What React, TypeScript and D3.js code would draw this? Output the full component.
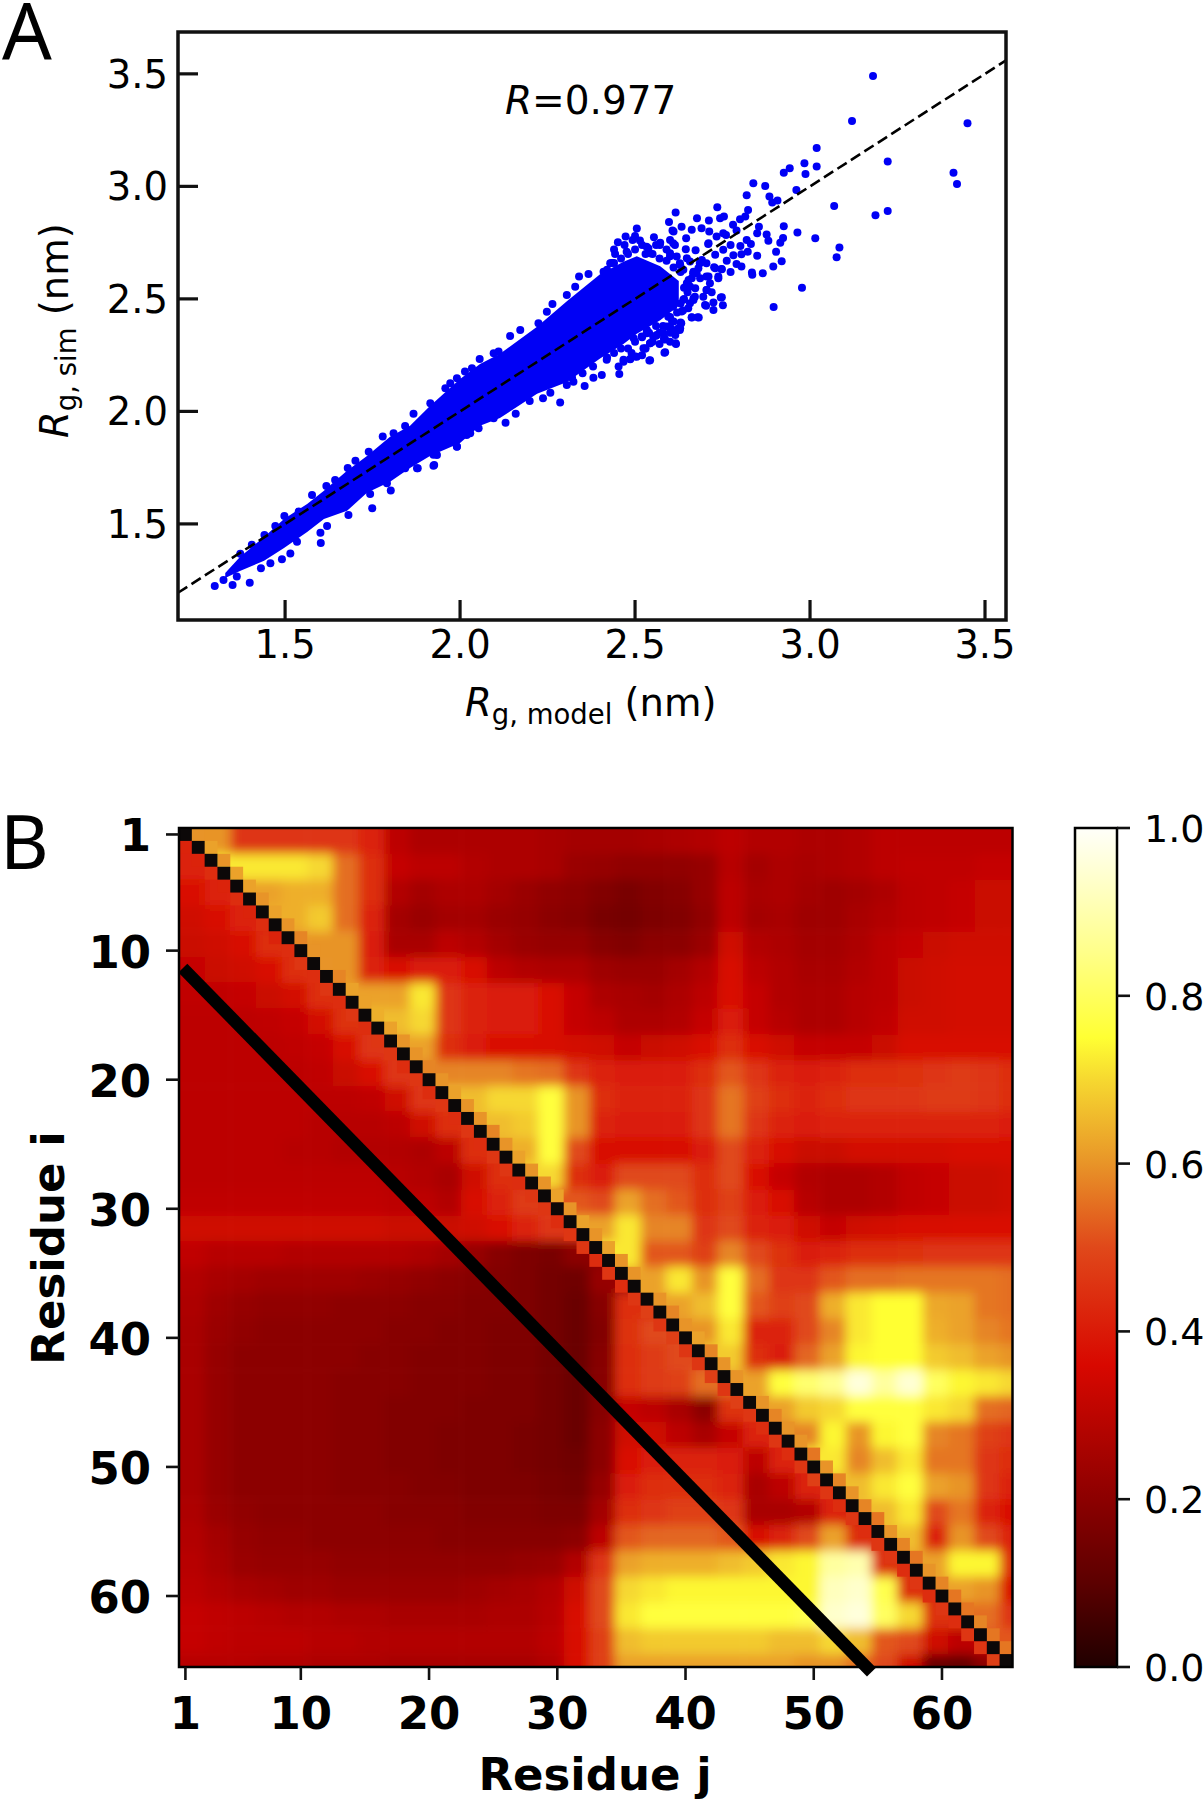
import { useMemo } from "react";
import * as d3 from "d3";

const WIDTH = 1203;
const HEIGHT = 1800;
const SANS = "DejaVu Sans";
const POINT_BLUE = "#0000f5";

// Panel A frame and axes
const A = { left: 178, right: 1006, top: 32, bottom: 620 };
const A_X_DOMAIN = [1.194, 3.56];
const A_Y_DOMAIN = [1.073, 3.686];
const A_TICKS = [1.5, 2.0, 2.5, 3.0, 3.5];
const FIT_LINE = [1.194, 3.56];

// The middle of the cloud is solid blue, single points can't be told apart there.
// So it is kept as an envelope read off the picture, and only the points that can
// actually be seen (edges and outliers) are listed one by one.
const CORE_X = [1.329, 1.371, 1.44, 1.497, 1.563, 1.611, 1.677, 1.734, 1.8, 1.857, 1.914, 2.0, 2.057, 2.114, 2.22, 2.306, 2.4, 2.467, 2.505, 2.572, 2.625];
const CORE_UPPER = [1.282, 1.353, 1.442, 1.522, 1.589, 1.647, 1.736, 1.802, 1.887, 1.936, 2.024, 2.144, 2.211, 2.256, 2.376, 2.491, 2.61, 2.665, 2.69, 2.645, 2.58];
const CORE_LOWER = [1.26, 1.291, 1.336, 1.393, 1.464, 1.522, 1.558, 1.638, 1.687, 1.749, 1.802, 1.86, 1.936, 1.971, 2.078, 2.131, 2.235, 2.3, 2.345, 2.405, 2.47];

const POINTS_LOW: number[][] = [
  [1.299, 1.224], [1.35, 1.229], [1.399, 1.238], [1.324, 1.251], [1.362, 1.266], [1.431, 1.303], [1.491, 1.343], [1.515, 1.368],
  [1.458, 1.325], [1.602, 1.415], [1.601, 1.461], [1.62, 1.491], [1.534, 1.421], [1.681, 1.54], [1.749, 1.57], [1.743, 1.633],
  [1.802, 1.648], [1.791, 1.681], [1.877, 1.747], [1.924, 1.759], [1.924, 1.807], [1.991, 1.844], [2.029, 1.903], [1.372, 1.367],
  [1.441, 1.451], [1.472, 1.491], [1.498, 1.535], [1.539, 1.555], [1.577, 1.629], [1.618, 1.669], [1.643, 1.695], [1.679, 1.749],
  [1.701, 1.781], [1.739, 1.821], [1.779, 1.888], [1.81, 1.903], [1.843, 1.935], [1.867, 1.989], [1.915, 2.036], [1.405, 1.407],
];

const POINTS_MID: number[][] = [
  [1.958, 2.103], [1.972, 2.125], [1.991, 2.147], [2.014, 2.177], [2.034, 2.192], [2.056, 2.233], [2.096, 2.258], [2.11, 2.266],
  [2.143, 2.335], [2.172, 2.362], [2.224, 2.392], [2.264, 2.477], [2.248, 2.443], [2.305, 2.517], [2.329, 2.554], [2.34, 2.599],
  [2.367, 2.611], [2.41, 2.621], [2.429, 2.658], [2.286, 2.04], [2.356, 2.113], [2.237, 2.058], [2.199, 2.046], [2.159, 1.989],
  [2.13, 1.95], [2.096, 1.969], [2.053, 1.925], [1.991, 1.843], [2.019, 1.895], [1.926, 1.762], [1.879, 1.747], [1.843, 1.747],
  [1.934, 1.806], [2.258, 2.083], [2.305, 2.117], [2.324, 2.132], [2.381, 2.15], [2.405, 2.162], [2.455, 2.166], [2.453, 2.199],
  [2.486, 2.233], [2.505, 2.243], [2.543, 2.227], [2.586, 2.263], [2.529, 2.28], [2.562, 2.34], [2.586, 2.32], [2.617, 2.3],
  [2.615, 2.34], [2.629, 2.369], [2.61, 2.399], [2.632, 2.392], [2.591, 2.377], [2.662, 2.418], [2.679, 2.418], [2.637, 2.448],
  [2.667, 2.495], [2.672, 2.547], [2.653, 2.584], [2.496, 2.325], [2.419, 2.229], [2.467, 2.229], [2.534, 2.362], [2.562, 2.48],
  [2.505, 2.813], [2.473, 2.777], [2.451, 2.752], [2.493, 2.762], [2.514, 2.759], [2.572, 2.75], [2.61, 2.799], [2.6, 2.762],
  [2.443, 2.7], [2.476, 2.71], [2.538, 2.725], [2.614, 2.74], [2.433, 2.659], [2.584, 2.261], [2.541, 2.226], [2.583, 2.325],
  [2.56, 2.336], [2.543, 2.303], [2.524, 2.281], [2.5, 2.244], [2.467, 2.221], [2.486, 2.232], [2.519, 2.333],
];

// along the rim of the solid part at the tail, where it breaks up into dots
const POINTS_RIM: number[][] = [
  [2.42, 2.63], [2.44, 2.66], [2.46, 2.68], [2.48, 2.7], [2.5, 2.72], [2.53, 2.7], [2.55, 2.7], [2.57, 2.68], [2.59, 2.67],
  [2.61, 2.64], [2.63, 2.62], [2.42, 2.24], [2.44, 2.26], [2.46, 2.28], [2.48, 2.28], [2.5, 2.31], [2.52, 2.33], [2.54, 2.35],
  [2.56, 2.38], [2.58, 2.38], [2.6, 2.42], [2.62, 2.44], [2.64, 2.55], [2.64, 2.5], [2.65, 2.53], [2.63, 2.48], [2.35, 2.17],
  [2.38, 2.2], [2.32, 2.15], [2.47, 2.74], [2.52, 2.74], [2.56, 2.74], [2.59, 2.72], [2.6, 2.69], [2.5, 2.78], [2.44, 2.72],
  [2.53, 2.28], [2.55, 2.31], [2.57, 2.35], [2.52, 2.25], [2.49, 2.26], [2.6, 2.35], [2.6, 2.31], [2.57, 2.3],
];

const POINTS_HIGH: number[][] = [
  [3.18, 3.49], [3.12, 3.29], [3.45, 3.28], [3.41, 3.06], [3.42, 3.01], [3.019, 3.17], [3.222, 3.11], [2.984, 3.103], [2.942, 3.081],
  [2.925, 3.061], [3.019, 3.088], [2.987, 3.055], [2.838, 3.014], [2.872, 3.002], [2.961, 2.984], [2.819, 2.961], [2.884, 2.955],
  [2.907, 2.937], [2.892, 2.928], [3.069, 2.913], [2.735, 2.907], [2.823, 2.895], [3.187, 2.872], [3.222, 2.89], [2.616, 2.884],
  [2.597, 2.842], [2.677, 2.858], [2.711, 2.848], [2.743, 2.858], [2.754, 2.866], [2.815, 2.866], [2.8, 2.854], [2.78, 2.829],
  [2.925, 2.823], [2.854, 2.821], [2.633, 2.821], [2.662, 2.807], [2.69, 2.814], [2.712, 2.799], [2.607, 2.804], [2.79, 2.804],
  [2.849, 2.792], [2.964, 2.795], [2.876, 2.786], [2.881, 2.758], [3.015, 2.77], [2.923, 2.771], [2.915, 2.75], [2.819, 2.762],
  [2.831, 2.744], [2.646, 2.77], [2.554, 2.774], [2.733, 2.777], [2.752, 2.792], [2.76, 2.784], [2.709, 2.744], [2.801, 2.735],
  [2.773, 2.74], [3.084, 2.728], [2.752, 2.718], [2.645, 2.721], [2.673, 2.716], [2.822, 2.71], [2.903, 2.709], [2.804, 2.698],
  [2.781, 2.694], [2.849, 2.692], [3.076, 2.685], [2.919, 2.667], [2.762, 2.669], [2.895, 2.644], [2.79, 2.655], [2.704, 2.658],
  [2.726, 2.641], [2.804, 2.644], [2.747, 2.633], [2.773, 2.62], [2.834, 2.617], [2.835, 2.607], [2.865, 2.614], [2.738, 2.599],
  [2.977, 2.549], [2.714, 2.57], [2.719, 2.53], [2.745, 2.506], [2.751, 2.472], [2.7, 2.473], [2.724, 2.484], [2.724, 2.451],
  [2.896, 2.464], [2.662, 2.417], [2.682, 2.417], [2.63, 2.395], [2.606, 2.401], [2.624, 2.37], [2.583, 2.321], [2.616, 2.303],
  [2.552, 2.332], [2.533, 2.732], [2.571, 2.74], [2.609, 2.747], [2.543, 2.703], [2.619, 2.688], [2.666, 2.614],
  [2.704, 2.599], [2.638, 2.629], [2.657, 2.555], [2.704, 2.54], [2.671, 2.51], [2.657, 2.481], [2.633, 2.444], [2.609, 2.466],
  [2.652, 2.458], [2.595, 2.421], [2.609, 2.362], [2.628, 2.362], [2.581, 2.347], [2.6, 2.377], [2.543, 2.303], [2.533, 2.347],
  [2.685, 2.658], [2.657, 2.666], [2.628, 2.658], [2.6, 2.703], [2.676, 2.614], [2.662, 2.592], [2.686, 2.592], [2.71, 2.599],
  [2.738, 2.592], [2.667, 2.503], [2.695, 2.51], [2.705, 2.54], [2.748, 2.507], [2.703, 2.469], [2.648, 2.57], [2.638, 2.496],
  [2.729, 2.696], [2.729, 2.636], [2.748, 2.632], [2.71, 2.747], [2.691, 2.673], [2.681, 2.636], [2.667, 2.621], [2.648, 2.681],
  [2.629, 2.651],
];

// Panel B frame and axes
const B = { left: 179, right: 1012.5, top: 828, bottom: 1667 };
const RESIDUE_DOMAIN = [0.5, 65.5];
const RESIDUE_TICKS = [1, 10, 20, 30, 40, 50, 60];
const BAR = { left: 1075, right: 1117 };
const BAR_TICKS = [0, 0.2, 0.4, 0.6, 0.8, 1.0];
const COLOR_STOPS = [0, 0.1, 0.2, 0.36, 0.5, 0.6, 0.7, 0.75, 0.85, 1];
const COLOR_VALUES = ["#200000", "#5c0000", "#8c0000", "#d80800", "#e0481a", "#e89428", "#f6d830", "#ffff33", "#ffff88", "#fffffa"];
const SEPARATOR_J = [0.8, 54.5];
const SEPARATOR_I = [11.35, 65.9];

// Contact values x100, blocks of two residues (1-2, 3-4, ... 65). Above the diagonal is the
// upper triangle of the map, below it the lower one.
const CONTACT_ROWS = [
  [0, 60, 46, 46, 46, 46, 46, 42, 30, 27, 27, 27, 27, 27, 26, 25, 25, 25, 26, 27, 28, 30, 28, 28, 27, 27, 28, 30, 30, 30, 30, 30, 30],
  [42, 0, 72, 72, 72, 70, 55, 44, 32, 30, 30, 28, 27, 27, 26, 23, 22, 21, 21, 21, 22, 29, 25, 27, 26, 27, 28, 30, 31, 31, 31, 32, 32],
  [37, 42, 0, 62, 64, 64, 55, 44, 28, 25, 27, 27, 25, 23, 21, 20, 18, 16, 18, 19, 22, 30, 26, 27, 25, 24, 25, 27, 30, 31, 32, 33, 33],
  [34, 36, 42, 0, 64, 68, 55, 42, 25, 23, 25, 25, 23, 22, 20, 19, 16, 15, 17, 18, 21, 30, 25, 26, 24, 24, 26, 28, 30, 31, 32, 33, 33],
  [33, 34, 36, 44, 0, 60, 60, 40, 26, 26, 30, 28, 25, 23, 22, 22, 19, 18, 20, 20, 23, 34, 28, 27, 25, 25, 27, 30, 32, 33, 34, 34, 34],
  [32, 33, 34, 36, 44, 0, 60, 42, 37, 40, 40, 36, 30, 28, 27, 27, 24, 23, 23, 25, 28, 36, 30, 28, 26, 26, 28, 30, 33, 34, 35, 35, 35],
  [31, 31, 32, 33, 35, 44, 0, 62, 62, 72, 46, 42, 40, 40, 38, 32, 27, 26, 25, 27, 30, 38, 32, 28, 27, 27, 29, 30, 33, 34, 35, 35, 35],
  [30, 30, 30, 31, 32, 35, 45, 0, 66, 70, 46, 42, 40, 40, 38, 32, 30, 27, 27, 28, 32, 40, 32, 29, 27, 27, 29, 31, 34, 34, 35, 35, 35],
  [30, 30, 30, 30, 31, 32, 36, 46, 0, 62, 44, 40, 38, 37, 36, 35, 34, 32, 33, 34, 37, 44, 38, 34, 32, 32, 32, 33, 36, 36, 36, 36, 36],
  [30, 30, 30, 30, 30, 31, 33, 38, 46, 0, 58, 58, 58, 56, 55, 46, 42, 40, 40, 40, 44, 52, 46, 42, 40, 42, 44, 44, 45, 46, 47, 46, 44],
  [30, 30, 30, 30, 30, 30, 30, 31, 34, 46, 0, 66, 70, 70, 76, 60, 44, 42, 42, 42, 46, 56, 48, 44, 42, 44, 46, 46, 46, 47, 47, 46, 44],
  [30, 30, 30, 30, 30, 29, 29, 29, 30, 34, 44, 0, 66, 68, 76, 60, 42, 40, 40, 40, 46, 56, 46, 42, 40, 42, 42, 42, 42, 42, 42, 42, 40],
  [30, 30, 30, 30, 29, 29, 28, 28, 28, 27, 30, 44, 0, 64, 76, 50, 36, 36, 36, 36, 40, 50, 42, 36, 33, 33, 35, 35, 35, 35, 36, 36, 36],
  [30, 30, 30, 30, 30, 30, 30, 30, 29, 28, 26, 34, 44, 0, 70, 44, 40, 50, 50, 50, 44, 50, 38, 32, 28, 27, 27, 28, 31, 32, 33, 33, 34],
  [31, 31, 31, 31, 31, 31, 31, 31, 30, 30, 28, 36, 42, 47, 0, 52, 50, 62, 55, 52, 44, 48, 40, 36, 29, 27, 27, 28, 31, 32, 33, 33, 34],
  [34, 34, 34, 34, 34, 34, 34, 34, 33, 33, 33, 34, 38, 42, 46, 0, 62, 72, 58, 58, 46, 50, 42, 40, 34, 32, 34, 35, 36, 36, 37, 37, 37],
  [31, 29, 29, 29, 28, 28, 28, 28, 28, 27, 25, 22, 19, 17, 16, 20, 0, 72, 52, 52, 48, 58, 50, 45, 40, 42, 44, 44, 45, 46, 46, 46, 46],
  [28, 26, 25, 24, 24, 24, 24, 23, 22, 21, 20, 19, 18, 17, 15, 14, 22, 0, 62, 72, 60, 76, 55, 46, 46, 52, 55, 55, 56, 56, 56, 56, 55],
  [27, 24, 22, 21, 21, 21, 20, 20, 20, 19, 19, 18, 18, 17, 15, 13, 19, 44, 0, 62, 66, 76, 52, 48, 50, 64, 72, 75, 75, 63, 62, 56, 55],
  [26, 23, 21, 20, 20, 20, 20, 20, 19, 19, 18, 18, 17, 17, 15, 13, 18, 45, 50, 0, 60, 72, 42, 42, 50, 58, 72, 75, 75, 64, 62, 58, 56],
  [26, 22, 20, 20, 20, 20, 20, 19, 19, 18, 18, 18, 17, 17, 15, 13, 19, 44, 47, 50, 0, 68, 44, 40, 54, 62, 74, 75, 75, 68, 66, 62, 60],
  [26, 22, 20, 20, 20, 20, 19, 19, 19, 18, 18, 18, 17, 17, 15, 13, 19, 44, 47, 48, 55, 0, 62, 76, 82, 86, 96, 88, 95, 80, 74, 72, 70],
  [26, 22, 20, 20, 20, 20, 19, 19, 18, 18, 18, 17, 17, 17, 15, 13, 19, 32, 30, 26, 20, 45, 0, 62, 68, 70, 76, 76, 76, 72, 70, 55, 54],
  [26, 22, 20, 20, 20, 20, 19, 19, 18, 18, 17, 17, 17, 16, 15, 13, 20, 34, 34, 30, 26, 32, 42, 0, 58, 74, 60, 74, 76, 58, 56, 48, 46],
  [26, 22, 20, 20, 20, 20, 19, 19, 18, 18, 17, 17, 17, 16, 15, 14, 20, 38, 40, 42, 42, 40, 30, 42, 0, 72, 58, 66, 72, 56, 56, 46, 44],
  [26, 22, 20, 20, 20, 20, 19, 19, 19, 18, 18, 17, 17, 17, 16, 15, 22, 40, 44, 44, 44, 42, 26, 30, 42, 0, 66, 72, 76, 62, 60, 46, 42],
  [27, 23, 21, 20, 20, 20, 20, 20, 19, 19, 19, 18, 18, 18, 17, 17, 25, 44, 46, 48, 48, 46, 26, 26, 28, 42, 0, 66, 72, 50, 56, 42, 38],
  [28, 25, 22, 21, 21, 20, 20, 20, 20, 20, 19, 19, 19, 19, 19, 20, 30, 52, 54, 54, 54, 52, 36, 42, 50, 62, 44, 0, 66, 42, 60, 50, 42],
  [29, 26, 23, 22, 22, 22, 21, 21, 21, 21, 21, 21, 21, 22, 23, 28, 46, 62, 64, 64, 64, 66, 68, 72, 74, 88, 90, 45, 0, 62, 74, 74, 44],
  [30, 28, 26, 25, 24, 24, 23, 23, 23, 23, 23, 24, 25, 26, 28, 34, 50, 70, 72, 74, 74, 74, 74, 74, 74, 92, 94, 78, 44, 0, 62, 60, 38],
  [32, 31, 30, 29, 28, 28, 27, 27, 26, 26, 26, 26, 27, 27, 29, 36, 50, 72, 76, 76, 76, 76, 76, 76, 78, 94, 96, 80, 70, 45, 0, 55, 46],
  [32, 31, 30, 30, 30, 29, 29, 28, 28, 28, 28, 28, 28, 28, 30, 36, 48, 66, 68, 68, 68, 68, 68, 66, 66, 70, 66, 52, 50, 34, 30, 0, 52],
  [29, 29, 29, 28, 28, 27, 27, 27, 26, 26, 26, 26, 26, 26, 28, 36, 48, 62, 62, 62, 62, 62, 62, 62, 60, 60, 55, 50, 34, 13, 12, 20, 0],
];

// Cells right next to the diagonal, residue r against r+1 (x100)
const NEAR_UPPER = [
  60, 62, 60, 62, 62, 60, 62, 60, 58, 60, 60, 58, 62, 62, 64, 62, 60, 60, 58, 60, 62, 60, 60, 58, 60, 62, 60, 60, 62, 60, 62, 60,
  62, 60, 60, 62, 60, 58, 60, 62, 58, 60, 60, 62, 60, 58, 60, 60, 56, 60, 58, 60, 58, 56, 60, 58, 56, 60, 58, 56, 56, 58, 56, 56,
];
const NEAR_LOWER = [
  42, 42, 44, 42, 44, 42, 44, 42, 44, 46, 44, 46, 44, 46, 44, 46, 46, 44, 46, 44, 46, 44, 46, 44, 46, 46, 44, 46, 46, 44, 46, 46,
  44, 46, 44, 46, 48, 46, 48, 46, 46, 48, 46, 48, 46, 44, 46, 44, 46, 48, 46, 44, 46, 44, 46, 46, 44, 46, 44, 46, 44, 46, 46, 48,
];

const RESIDUES = d3.range(1, 66);

const tickText = { fontFamily: SANS, fontSize: 38.5, fill: "#000" };
const barText = { fontFamily: SANS, fontSize: 38, fill: "#000" };
const boldText = { fontFamily: SANS, fontSize: 45, fontWeight: 700, fill: "#000" };

function blockX(k: number, scale: d3.ScaleLinear<number, number>, extend: number) {
  const start = scale(2 * k + 0.5);
  const end = scale(Math.min(2 * k + 2.5, 65.5));
  return {
    start: k === 0 ? start - extend : start,
    end: k === CONTACT_ROWS.length - 1 ? end + extend : end + 0.6
  };
}

function ContactTriangle({ side, x, y, color }: any) {
  // across the diagonal the triangle is mirrored so the smoothing has something to blend with
  const valueAt = (row: number, col: number) => {
    const last = CONTACT_ROWS.length - 1;
    if (side === "upper") {
      const a = Math.min(row, col);
      const b = Math.max(row, col);
      if (a === b) {
        return a === last ? CONTACT_ROWS[a - 1][a] : CONTACT_ROWS[a][a + 1];
      }
      return CONTACT_ROWS[a][b];
    }
    const a = Math.max(row, col);
    const b = Math.min(row, col);
    if (a === b) {
      return a === 0 ? CONTACT_ROWS[1][0] : CONTACT_ROWS[a][a - 1];
    }
    return CONTACT_ROWS[a][b];
  };

  return (
    <g clipPath={`url(#clip-${side})`}>
      <g filter="url(#heatSmooth)">
        {CONTACT_ROWS.map((row, i) =>
          row.map((_, j) => {
            const cx = blockX(j, x, 30);
            const cy = blockX(i, y, 30);
            return (
              <rect
                key={`${i}-${j}`}
                x={cx.start}
                y={cy.start}
                width={cx.end - cx.start}
                height={cy.end - cy.start}
                fill={color(valueAt(i, j) / 100)}
              />
            );
          })
        )}
      </g>
    </g>
  );
}

export default function App() {
  const ax = useMemo(() => d3.scaleLinear().domain(A_X_DOMAIN).range([A.left, A.right]), []);
  const ay = useMemo(() => d3.scaleLinear().domain(A_Y_DOMAIN).range([A.bottom, A.top]), []);
  const bx = useMemo(() => d3.scaleLinear().domain(RESIDUE_DOMAIN).range([B.left, B.right]), []);
  const by = useMemo(() => d3.scaleLinear().domain(RESIDUE_DOMAIN).range([B.top, B.bottom]), []);
  const barY = useMemo(() => d3.scaleLinear().domain([0, 1]).range([B.bottom, B.top]), []);
  const color = useMemo(
    () => d3.scaleLinear<string>().domain(COLOR_STOPS).range(COLOR_VALUES).clamp(true),
    []
  );

  const corePath = useMemo(
    () =>
      d3
        .area<number>()
        .x((value) => ax(value))
        .y0((_, index) => ay(CORE_LOWER[index]))
        .y1((_, index) => ay(CORE_UPPER[index]))(CORE_X) ?? "",
    [ax, ay]
  );

  const points = [...POINTS_LOW, ...POINTS_MID, ...POINTS_RIM, ...POINTS_HIGH];
  const cell = bx(1.5) - bx(0.5);
  const cellH = by(1.5) - by(0.5);

  return (
    <svg
      width={WIDTH}
      height={HEIGHT}
      viewBox={`0 0 ${WIDTH} ${HEIGHT}`}
      style={{ position: "absolute", left: 0, top: 0, background: "#fff" }}
    >
      <defs>
        <clipPath id="clip-upper">
          <polygon
            points={`${bx(0.5)},${by(0.5)} ${bx(65.5)},${by(0.5)} ${bx(65.5)},${by(65.5)}`}
          />
        </clipPath>
        <clipPath id="clip-lower">
          <polygon
            points={`${bx(0.5)},${by(0.5)} ${bx(0.5)},${by(65.5)} ${bx(65.5)},${by(65.5)}`}
          />
        </clipPath>
        <filter
          id="heatSmooth"
          filterUnits="userSpaceOnUse"
          x={B.left - 40}
          y={B.top - 40}
          width={B.right - B.left + 80}
          height={B.bottom - B.top + 80}
        >
          <feGaussianBlur stdDeviation="5.5" />
        </filter>
        <linearGradient id="barGradient" x1="0" x2="0" y1="1" y2="0">
          {COLOR_STOPS.map((stop, index) => (
            <stop key={stop} offset={stop} stopColor={COLOR_VALUES[index]} />
          ))}
        </linearGradient>
      </defs>

      {/* Panel A */}
      <text x={2} y={59} fontFamily="Noto Sans" fontSize={78} fill="#000">
        A
      </text>

      <path d={corePath} fill={POINT_BLUE} />
      {points.map(([px, py], index) => (
        <circle key={index} cx={ax(px)} cy={ay(py)} r={4} fill={POINT_BLUE} />
      ))}
      <line
        x1={ax(FIT_LINE[0])}
        y1={ay(FIT_LINE[0])}
        x2={ax(FIT_LINE[1])}
        y2={ay(FIT_LINE[1])}
        stroke="#000"
        strokeWidth={2.6}
        strokeDasharray="11 5"
      />
      <rect
        x={A.left}
        y={A.top}
        width={A.right - A.left}
        height={A.bottom - A.top}
        fill="none"
        stroke="#111"
        strokeWidth={3.5}
      />

      {A_TICKS.map((tick) => (
        <g key={tick}>
          <line x1={ax(tick)} x2={ax(tick)} y1={A.bottom} y2={A.bottom - 20} stroke="#111" strokeWidth={3.2} />
          <text {...tickText} x={ax(tick)} y={658} textAnchor="middle">
            {tick.toFixed(1)}
          </text>
          <line x1={A.left} x2={A.left + 20} y1={ay(tick)} y2={ay(tick)} stroke="#111" strokeWidth={3.2} />
          <text {...tickText} x={168} y={ay(tick) + 14} textAnchor="end">
            {tick.toFixed(1)}
          </text>
        </g>
      ))}

      <text x={505} y={114} fontFamily={SANS} fontSize={39} fill="#000">
        <tspan fontStyle="italic">R</tspan>=0.977
      </text>
      <text x={465} y={716} fontFamily={SANS} fontSize={38.5} fill="#000">
        <tspan fontStyle="italic">R</tspan>
        <tspan fontSize={27.5} dy={8}>g, model</tspan>
        <tspan dy={-8}> (nm)</tspan>
      </text>
      <text
        transform="translate(68,438) rotate(-90)"
        fontFamily={SANS}
        fontSize={38.5}
        fill="#000"
      >
        <tspan fontStyle="italic">R</tspan>
        <tspan fontSize={27.5} dy={8}>g, sim</tspan>
        <tspan dy={-8}> (nm)</tspan>
      </text>

      {/* Panel B */}
      <text x={0} y={869} fontFamily="Noto Sans" fontSize={75} fill="#000">
        B
      </text>

      <ContactTriangle side="upper" x={bx} y={by} color={color} />
      <ContactTriangle side="lower" x={bx} y={by} color={color} />

      {NEAR_UPPER.map((value, index) => (
        <rect
          key={`near-u-${index}`}
          x={bx(index + 1.5)}
          y={by(index + 0.5)}
          width={cell}
          height={cellH}
          fill={color(value / 100)}
        />
      ))}
      {NEAR_LOWER.map((value, index) => (
        <rect
          key={`near-l-${index}`}
          x={bx(index + 0.5)}
          y={by(index + 1.5)}
          width={cell}
          height={cellH}
          fill={color(value / 100)}
        />
      ))}
      {RESIDUES.map((residue) => (
        <rect
          key={residue}
          x={bx(residue - 0.5)}
          y={by(residue - 0.5)}
          width={cell}
          height={cellH}
          fill="#0c0808"
        />
      ))}

      <rect
        x={B.left}
        y={B.top}
        width={B.right - B.left}
        height={B.bottom - B.top}
        fill="none"
        stroke="#000"
        strokeWidth={2.5}
      />
      <line
        x1={bx(SEPARATOR_J[0])}
        y1={by(SEPARATOR_I[0])}
        x2={bx(SEPARATOR_J[1])}
        y2={by(SEPARATOR_I[1])}
        stroke="#000"
        strokeWidth={12.5}
      />

      {RESIDUE_TICKS.map((tick) => (
        <g key={tick}>
          <line x1={bx(tick)} x2={bx(tick)} y1={B.bottom} y2={B.bottom + 13} stroke="#111" strokeWidth={2.6} />
          <text {...boldText} x={bx(tick)} y={1729} textAnchor="middle">
            {tick}
          </text>
          <line x1={B.left - 13} x2={B.left} y1={by(tick)} y2={by(tick)} stroke="#111" strokeWidth={2.6} />
          <text {...boldText} x={151} y={by(tick) + 17} textAnchor="end">
            {tick}
          </text>
        </g>
      ))}
      <text {...boldText} x={595} y={1790} textAnchor="middle">
        Residue j
      </text>
      <text {...boldText} transform="translate(64,1248) rotate(-90)" textAnchor="middle">
        Residue i
      </text>

      {/* Colour bar */}
      <rect
        x={BAR.left}
        y={B.top}
        width={BAR.right - BAR.left}
        height={B.bottom - B.top}
        fill="url(#barGradient)"
        stroke="#000"
        strokeWidth={2.5}
      />
      {BAR_TICKS.map((tick) => (
        <g key={tick}>
          <line x1={BAR.right} x2={BAR.right + 13} y1={barY(tick)} y2={barY(tick)} stroke="#111" strokeWidth={2.6} />
          <text {...barText} x={1144} y={barY(tick) + 14}>
            {tick.toFixed(1)}
          </text>
        </g>
      ))}
    </svg>
  );
}
